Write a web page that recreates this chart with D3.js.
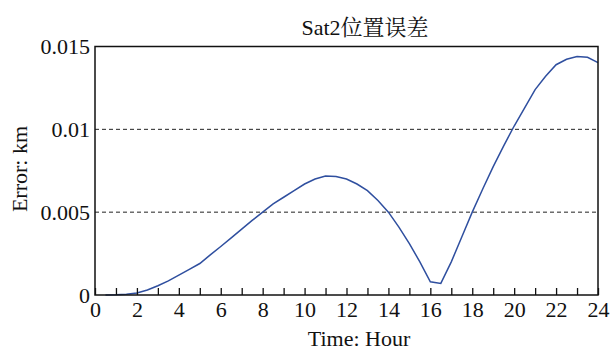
<!DOCTYPE html>
<html>

<head>
	<title>Sat2 position error</title>
	<meta charset="utf-8">
	<script src="https://d3js.org/d3.v7.min.js"></script>
	<style>
		body {
			padding: 0;
			margin: 0;
			background: #fff;
		}

		#graph text {
			font-family: "Liberation Serif", serif;
			fill: #111;
		}

		#graph text .cjk {
			font-family: "Noto Serif CJK SC", "Noto Sans CJK SC", serif;
		}

		.frame {
			fill: none;
			stroke: #111;
			stroke-width: 1.5px;
		}

		.grid line {
			stroke: #222;
			stroke-width: 1px;
			stroke-dasharray: 4, 3;
		}

		.curve {
			fill: none;
			stroke: #2f4f9f;
			stroke-width: 1.5px;
		}
	</style>
</head>

<body>
	<div id="graph"></div>
	<script>
		var hours = [0.5, 1, 1.5, 2, 2.5, 3, 3.5, 4, 4.5, 5, 5.5, 6, 6.5, 7, 7.5, 8, 8.5, 9, 9.5, 10,
			10.5, 11, 11.5, 12, 12.5, 13, 13.5, 14, 14.5, 15, 15.5, 16, 16.5, 17, 17.5, 18, 18.5, 19,
			19.5, 20, 20.5, 21, 21.5, 22, 22.5, 23, 23.5, 24];
		var errorKm = [0, 0.00001, 0.00004, 0.00012, 0.0003, 0.00056, 0.00085, 0.0012, 0.00155, 0.0019,
			0.00242, 0.00293, 0.00345, 0.00398, 0.0045, 0.005, 0.0055, 0.0059, 0.0063, 0.0067,
			0.007, 0.00718, 0.00715, 0.007, 0.0067, 0.0063, 0.0057, 0.005, 0.0041, 0.0031,
			0.002, 0.0008, 0.0007, 0.002, 0.0035, 0.005, 0.0064, 0.00775, 0.009, 0.0102,
			0.0113, 0.0124, 0.0132, 0.0139, 0.01423, 0.01439, 0.01435, 0.01403];
		var yTicks = [0, 0.005, 0.01, 0.015];
		var yTickLabels = ["0", "0.005", "0.01", "0.015"];
		var gridValues = [0.005, 0.01];
		var xTicks = d3.range(0, 25, 1);

		var width = 613, height = 350;
		var margin = { top: 46.5, right: 15, bottom: 55, left: 95 };

		var svg = d3.select("#graph")
			.append("svg")
			.attr("width", width)
			.attr("height", height);

		var x = d3.scaleLinear().domain([0, 24]).range([margin.left, width - margin.right]);
		var y = d3.scaleLinear().domain([0, 0.015]).range([height - margin.bottom, margin.top]);

		//dashed grid lines
		svg.append("g")
			.attr("class", "grid")
			.selectAll("line")
			.data(gridValues)
			.enter().append("line")
			.attr("x1", x(0))
			.attr("x2", x(24))
			.attr("y1", function (d) { return y(d); })
			.attr("y2", function (d) { return y(d); });

		//the curve
		var pts = hours.map(function (h, i) { return [h, errorKm[i]]; });
		svg.append("path")
			.datum(pts)
			.attr("class", "curve")
			.attr("d", d3.line()
				.x(function (d) { return x(d[0]); })
				.y(function (d) { return y(d[1]); }));

		//x axis: ticks every hour pointing inward, labels on even hours
		var xAxis = svg.append("g")
			.attr("transform", "translate(0," + y(0) + ")")
			.call(d3.axisBottom(x)
				.tickValues(xTicks)
				.tickSizeInner(-7)
				.tickSizeOuter(0)
				.tickPadding(6)
				.tickFormat(function (d) { return d % 2 === 0 ? d : ""; }));
		xAxis.attr("font-family", null).attr("font-size", null);
		xAxis.select(".domain").remove();
		xAxis.selectAll(".tick line").attr("stroke", "#111").attr("stroke-width", 1.3);
		xAxis.selectAll("text").style("font-size", "22px");

		//y axis: labels only
		var yAxis = svg.append("g")
			.attr("transform", "translate(" + x(0) + ",0)")
			.call(d3.axisLeft(y)
				.tickValues(yTicks)
				.tickSize(0)
				.tickPadding(5)
				.tickFormat(function (d, i) { return yTickLabels[i]; }));
		yAxis.attr("font-family", null).attr("font-size", null);
		yAxis.select(".domain").remove();
		yAxis.selectAll("text").style("font-size", "22px");

		//box round the plot
		svg.append("rect")
			.attr("class", "frame")
			.attr("x", x(0))
			.attr("y", y(0.015))
			.attr("width", x(24) - x(0))
			.attr("height", y(0) - y(0.015));

		//title and axis labels
		var title = svg.append("text")
			.attr("x", 365)
			.attr("y", 35)
			.attr("text-anchor", "middle")
			.style("font-size", "22px");
		title.append("tspan").text("Sat2");
		title.append("tspan").attr("class", "cjk").text("位置误差");

		svg.append("text")
			.attr("x", 359)
			.attr("y", 346)
			.attr("text-anchor", "middle")
			.style("font-size", "22px")
			.text("Time: Hour");

		svg.append("text")
			.attr("transform", "translate(27,169) rotate(-90)")
			.attr("text-anchor", "middle")
			.style("font-size", "22px")
			.text("Error: km");
	</script>
</body>

</html>
